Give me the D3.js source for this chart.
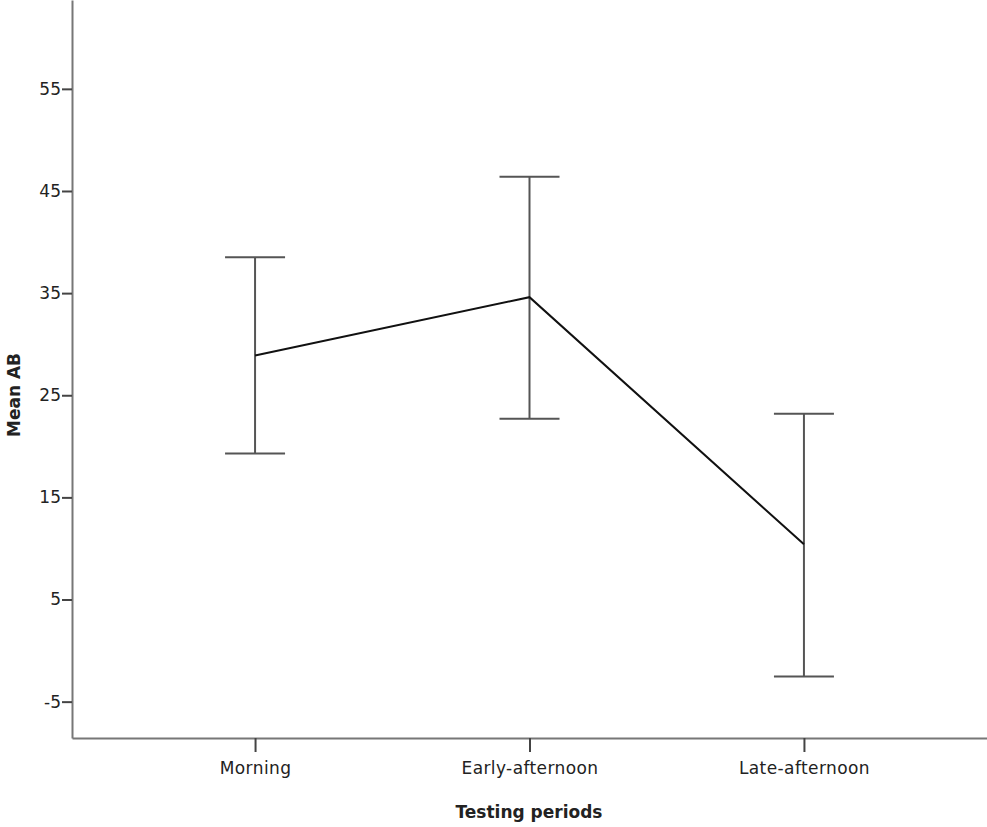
<!DOCTYPE html>
<html>
<head>
<meta charset="utf-8">
<script src="https://cdn.jsdelivr.net/npm/d3@7"></script>
<style>
	body { margin: 0; background: #fff; }
	svg text { font-family: "DejaVu Sans", sans-serif; fill: #222; }
</style>
</head>
<body>
<svg id="chart"></svg>
<script>
// Chart data
const periods = [ 'Morning', 'Early-afternoon', 'Late-afternoon' ];
const means = [ 28.9, 34.6, 10.4 ];
const upper = [ 38.5, 46.4, 23.2 ];
const lower = [ 19.3, 22.7, -2.55 ];
const yTicks = [ -5, 5, 15, 25, 35, 45, 55 ];

const width = 987;
const height = 827;
const margin = { top: 0, right: 0, bottom: 89, left: 72 };

const svg = d3.select( '#chart' )
	.attr( 'width', width )
	.attr( 'height', height );

const xScale = d3.scalePoint()
	.domain( periods )
	.range( [ margin.left, width - margin.right ] )
	.padding( 0.667 );

const yScale = d3.scaleLinear()
	.domain( [ -8.56, 63.7 ] )
	.range( [ height - margin.bottom, margin.top ] );

// Axes
const yAxis = svg.append( 'g' )
	.attr( 'transform', `translate(${ margin.left },0)` )
	.call( d3.axisLeft( yScale )
		.tickValues( yTicks )
		.tickFormat( ( d ) => String( d ) )
		.tickSizeInner( 10 )
		.tickSizeOuter( 0 )
		.tickPadding( 1 ) );

const xAxis = svg.append( 'g' )
	.attr( 'transform', `translate(0,${ height - margin.bottom })` )
	.call( d3.axisBottom( xScale ).tickSizeInner( 14 ).tickSizeOuter( 0 ).tickPadding( 10 ) );

[ yAxis, xAxis ].forEach( ( ax ) => {
	ax.select( '.domain' ).attr( 'stroke', '#777' ).attr( 'stroke-width', 2 );
	ax.selectAll( '.tick line' ).attr( 'stroke', '#444' ).attr( 'stroke-width', 2 );
	ax.selectAll( '.tick text' ).attr( 'fill', '#222' );
} );
yAxis.selectAll( '.tick text' ).attr( 'font-size', 17 );
xAxis.selectAll( '.tick text' )
	.attr( 'font-size', 17 )
	.attr( 'letter-spacing', 0.4 );

// Error bars
const capHalf = 30;
const bars = svg.append( 'g' )
	.selectAll( 'g' )
	.data( periods )
	.enter()
	.append( 'g' );

bars.append( 'line' )
	.attr( 'x1', ( d ) => xScale( d ) )
	.attr( 'x2', ( d ) => xScale( d ) )
	.attr( 'y1', ( d, i ) => yScale( upper[ i ] ) )
	.attr( 'y2', ( d, i ) => yScale( lower[ i ] ) )
	.attr( 'stroke', '#555' )
	.attr( 'stroke-width', 2 );

[ upper, lower ].forEach( ( arr ) => {
	bars.append( 'line' )
		.attr( 'x1', ( d ) => xScale( d ) - capHalf )
		.attr( 'x2', ( d ) => xScale( d ) + capHalf )
		.attr( 'y1', ( d, i ) => yScale( arr[ i ] ) )
		.attr( 'y2', ( d, i ) => yScale( arr[ i ] ) )
		.attr( 'stroke', '#555' )
		.attr( 'stroke-width', 2 );
} );

// Mean line
const line = d3.line()
	.x( ( d, i ) => xScale( periods[ i ] ) )
	.y( ( d ) => yScale( d ) );

svg.append( 'path' )
	.datum( means )
	.attr( 'd', line )
	.attr( 'fill', 'none' )
	.attr( 'stroke', '#111' )
	.attr( 'stroke-width', 2 );

// Axis titles
svg.append( 'text' )
	.attr( 'x', ( margin.left + width ) / 2 - 0.5 )
	.attr( 'y', 818 )
	.attr( 'text-anchor', 'middle' )
	.attr( 'font-size', 17 )
	.attr( 'font-weight', 'bold' )
	.text( 'Testing periods' );

svg.append( 'text' )
	.attr( 'transform', 'translate(20,395) rotate(-90)' )
	.attr( 'text-anchor', 'middle' )
	.attr( 'font-size', 17 )
	.attr( 'font-weight', 'bold' )
	.text( 'Mean AB' );
</script>
</body>
</html>
